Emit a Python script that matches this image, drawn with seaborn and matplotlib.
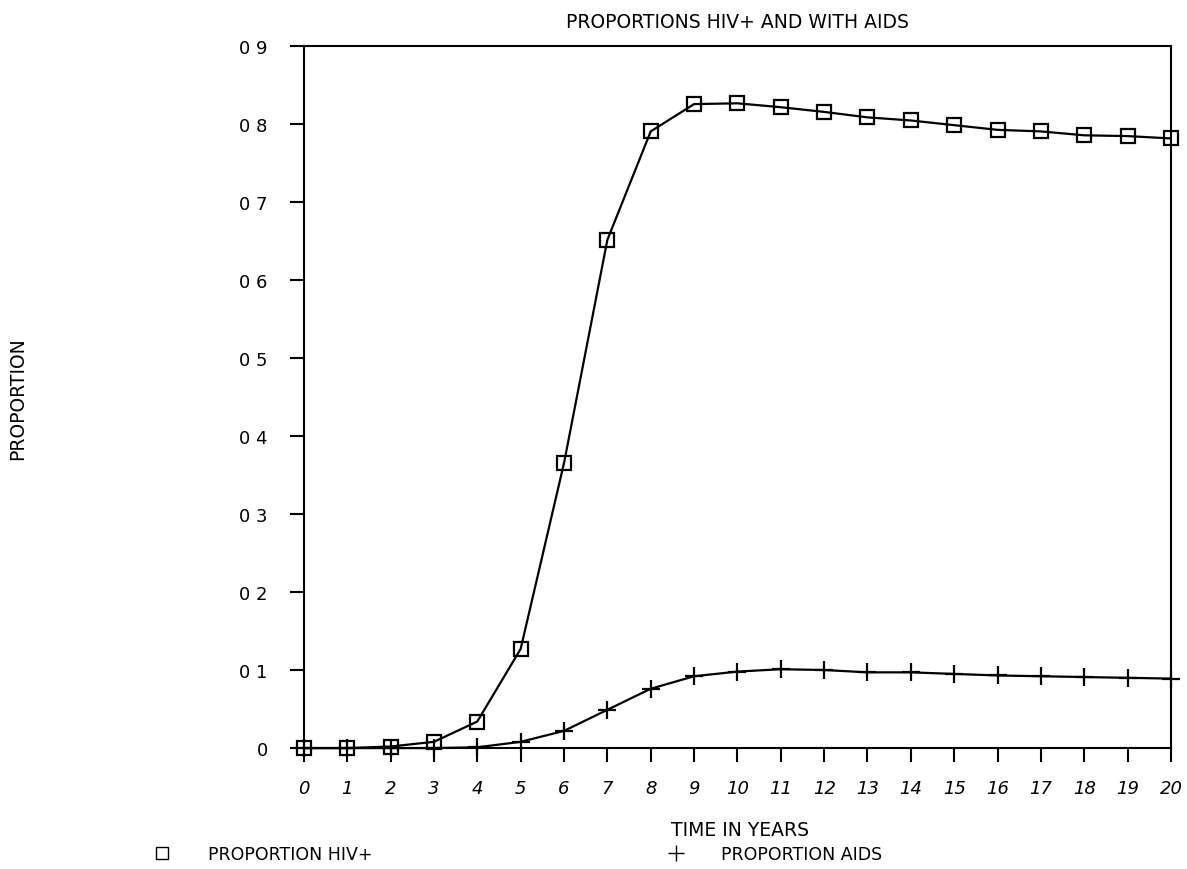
import pandas as pd
import matplotlib.pyplot as plt
import seaborn as sns
from matplotlib.lines import Line2D

# Values
years = list(range(21))
hiv_pos = [0.0, 0.0, 0.002, 0.008, 0.034, 0.127, 0.365, 0.651, 0.790, 0.825,
           0.826, 0.821, 0.815, 0.808, 0.804, 0.798, 0.792, 0.790, 0.785, 0.784, 0.781]
aids = [0.0, 0.0, 0.0, 0.0, 0.001, 0.008, 0.022, 0.049, 0.076, 0.092,
        0.098, 0.101, 0.100, 0.097, 0.097, 0.095, 0.093, 0.092, 0.091, 0.090, 0.089]
y_ticks = [0.0, 0.1, 0.2, 0.3, 0.4, 0.5, 0.6, 0.7, 0.8, 0.9]
y_tick_labels = ['0', '0 1', '0 2', '0 3', '0 4', '0 5', '0 6', '0 7', '0 8', '0 9']

sns.set_style("ticks")
plt.rcParams['font.family'] = ['DejaVu Sans']
plt.rcParams['text.color'] = 'black'
plt.rcParams['xtick.color'] = 'black'
plt.rcParams['ytick.color'] = 'black'

df = pd.DataFrame({'year': years, 'hiv': hiv_pos, 'aids': aids})

fig = plt.figure(figsize=(11.87, 8.70), dpi=100)
ax = fig.add_axes([0.256, 0.139, 0.7305, 0.8075])

sns.lineplot(data=df, x='year', y='hiv', ax=ax, color='black', linewidth=1.6,
             marker='s', markersize=10, markerfacecolor='none',
             markeredgecolor='black', markeredgewidth=1.6, clip_on=False)
sns.lineplot(data=df, x='year', y='aids', ax=ax, color='black', linewidth=1.6,
             marker='+', markersize=13, markeredgecolor='black',
             markeredgewidth=1.6, clip_on=False)

ax.set_xlim(0, 20)
ax.set_ylim(0, 0.9)
ax.set_xticks(years)
ax.set_xticklabels([str(y) for y in years], style='italic', fontsize=13)
ax.set_yticks(y_ticks)
ax.set_yticklabels(y_tick_labels, fontsize=13)
ax.tick_params(axis='x', direction='out', length=10, width=1.5, pad=12)
ax.tick_params(axis='y', direction='out', length=10, width=1.5, pad=16)
for s in ax.spines.values():
    s.set_linewidth(1.5)
    s.set_color('black')

ax.set_xlabel('')
ax.set_ylabel('')
ax.set_title('PROPORTIONS HIV+ AND WITH AIDS', fontsize=13.5, pad=13)
fig.text(740 / 1187, 1 - 831 / 870, 'TIME IN YEARS', fontsize=13.5, ha='center', va='center')
fig.text(18 / 1187, 1 - 399 / 870, 'PROPORTION', rotation=90, fontsize=13.5,
         ha='center', va='center')

# Legend laid out along the bottom as in the original
handles = [Line2D([], [], color='black', marker='s', markerfacecolor='none',
                  markersize=9, linestyle='none'),
           Line2D([], [], color='black', marker='+', markersize=11, linestyle='none')]
fig.legend(handles, ['PROPORTION HIV+', 'PROPORTION AIDS'], loc='center left',
           bbox_to_anchor=(0.109, 1 - 855 / 870), ncol=2, frameon=False, fontsize=12.5,
           columnspacing=16.5, handletextpad=1.6)

fig.savefig('out.png', dpi=100)
